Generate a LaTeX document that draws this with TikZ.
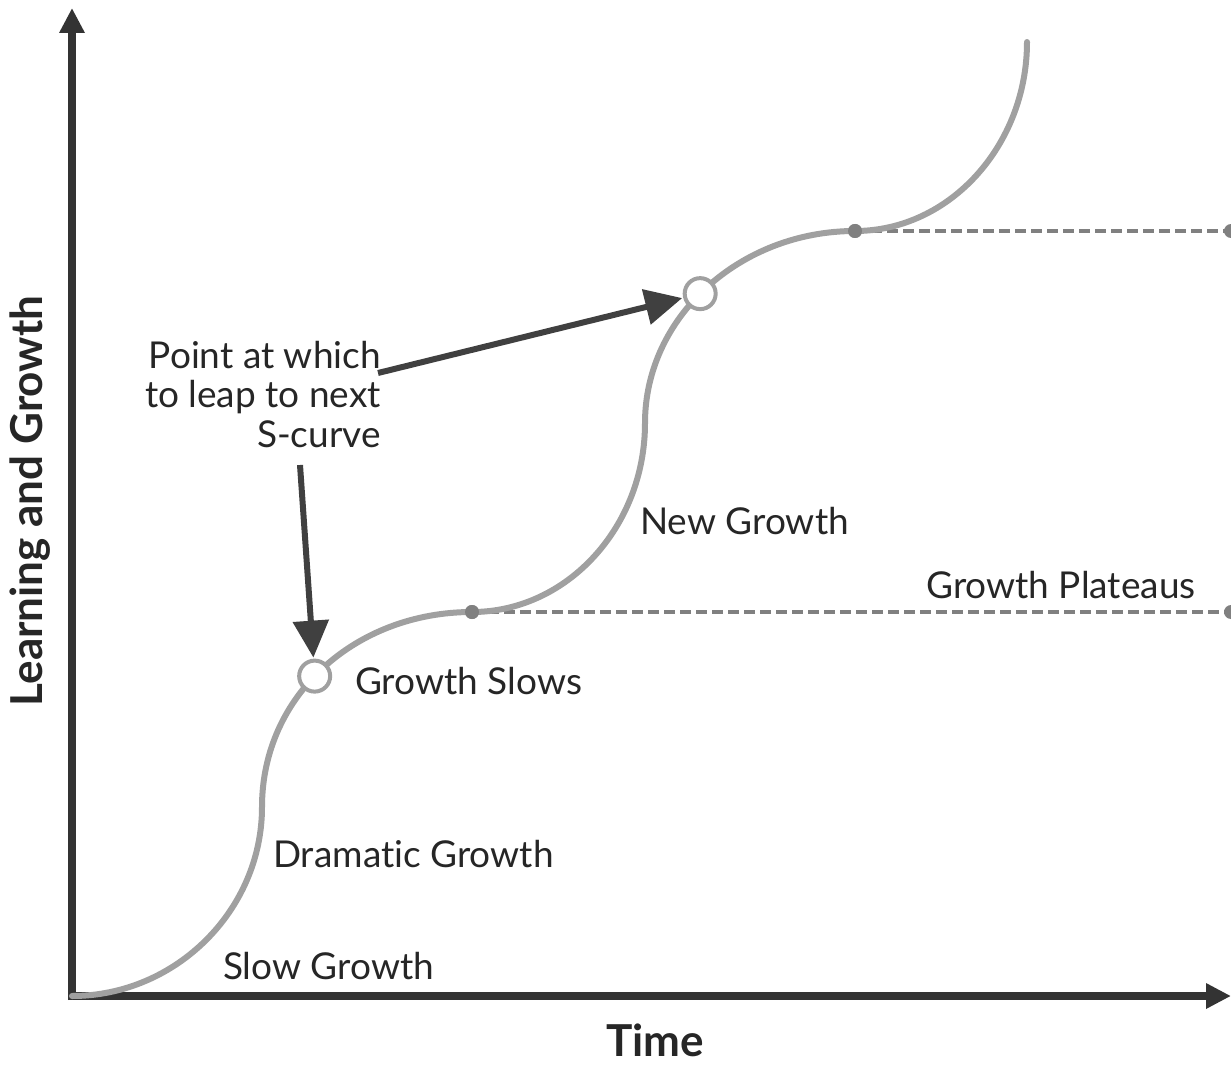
\documentclass[tikz,border=0pt]{standalone}
\usepackage{fontspec}
\setmainfont[Ligatures={NoCommon,NoDiscretionary}]{Lato}
\usetikzlibrary{arrows.meta}
\definecolor{axisc}{HTML}{333333}
\definecolor{arrc}{HTML}{404040}
\definecolor{curvec}{HTML}{A0A0A0}
\definecolor{dashc}{HTML}{808080}
\definecolor{txtc}{HTML}{262626}
\tikzset{
  axisline/.style={line width=8pt, draw=axisc, -{Triangle[width=24pt,length=25pt]}},
  scurve/.style={line width=6pt, draw=curvec, line cap=round},
  leapmark/.style={circle, draw=curvec, line width=4pt, fill=white, minimum size=31pt, inner sep=0pt},
  plateaudot/.style={circle, fill=dashc, minimum size=14pt, inner sep=0pt},
  plateauline/.style={line width=4pt, draw=dashc, dash pattern=on 11pt off 5pt},
  callout/.style={line width=6pt, draw=arrc, -{Triangle[width=35pt,length=37pt]}, shorten >=1pt},
  lbl/.style={text=txtc, font=\fontsize{37}{40}\selectfont, inner sep=0pt, anchor=west},
  axislbl/.style={text=txtc, font=\fontsize{44}{48}\selectfont\bfseries, inner sep=0pt}
}
\begin{document}
\begin{tikzpicture}[x=1pt,y=-1pt]
\useasboundingbox (0,0) rectangle (1231,1067);
% axes
\coordinate (O) at (72,996);
\coordinate (ytop) at (72,8);
\coordinate (xend) at (1231,996);
\coordinate (ybot) at (72,1000);
\coordinate (xbeg) at (68,996);
\draw[axisline] (ybot) -- (ytop);
\draw[axisline] (xbeg) -- (xend);
% dots and dashed lines
\node[plateaudot] (p1) at (472,612) {};
\node[plateaudot] (p2) at (855,231) {};
\node[plateaudot] (e1) at (1231,612) {};
\node[plateaudot] (e2) at (1231,231) {};
\draw[plateauline] (p1.center) -- (e1.center);
\draw[plateauline] (p2.center) -- (e2.center);
% S-curves
\draw[scurve] (O)
  .. controls (176,996) and (262,910) .. (262,807)
  .. controls (262,695) and (356,612) .. (472,612) node[pos=0.46, leapmark] (c1) {}
  .. controls (567,612) and (645,527) .. (645,423)
  .. controls (645,317) and (740,231) .. (855,231) node[pos=0.47, leapmark] (c2) {}
  .. controls (950,231) and (1027,145) .. (1027,42);
\node[plateaudot] at (p1) {};
\node[plateaudot] at (p2) {};
% callout text and arrows
\node[text=txtc, font=\fontsize{37}{39.5}\selectfont, align=right, anchor=north east, inner sep=0pt] (note) at (381,341)
  {Point at which\\to leap to next\\S-curve};
\coordinate (a1s) at (300,465);
\coordinate (a2s) at (378,373);
\draw[callout] (a1s) -- (c1);
\draw[callout] (a2s) -- (c2);
% labels
\node[lbl] (gs) at (355,681) {Growth Slows};
\node[lbl] (dg) at (273,854) {Dramatic Growth};
\node[lbl] (sg) at (223,966) {Slow Growth};
\node[lbl] (ng) at (640,521) {New Growth};
\node[lbl] (gp) at (926,585) {Growth Plateaus};
\node[axislbl] (tl) at (655,1040) {Time};
\node[axislbl, rotate=90] (yl) at (30,501) {Learning and Growth};
\end{tikzpicture}
\end{document}
